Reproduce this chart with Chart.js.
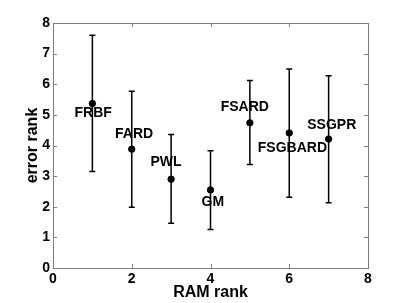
<!DOCTYPE html>
<html>
<head>
<meta charset="utf-8">
<script src="https://cdn.jsdelivr.net/npm/chart.js@4"></script>
<style>
  html, body { margin: 0; padding: 0; background: #fff; }
  #wrap { width: 407px; height: 303px; position: relative; }
</style>
</head>
<body>
<div id="wrap"><canvas id="myChart"></canvas></div>
<script>
// RAM rank (x), mean error rank (y) and the error bar ends
var methods = ["FRBF", "FARD", "PWL", "GM", "FSARD", "FSGBARD", "SSGPR"];
var ramRank = [1, 2, 3, 4, 5, 6, 7];
var errRank = [5.37, 3.88, 2.90, 2.55, 4.74, 4.41, 4.21];
var errLow  = [3.15, 1.98, 1.46, 1.26, 3.38, 2.31, 2.13];
var errHigh = [7.60, 5.77, 4.36, 3.83, 6.12, 6.50, 6.28];
// where each method name sits (data coords, centre of the text)
var labelX = [1.02, 2.06, 2.87, 4.06, 4.87, 6.08, 7.08];
var labelY = [5.07, 4.38, 3.46, 2.16, 5.26, 3.90, 4.67];

var points = [];
for (var i = 0; i < ramRank.length; i++) {
  points.push({x: ramRank[i], y: errRank[i]});
}

var fontName = "'Liberation Sans', Arial, sans-serif";

// error bars + method names
var errorBars = {
  id: "errorBars",
  beforeDatasetsDraw: function(chart) {
    var ctx = chart.ctx, xs = chart.scales.x, ys = chart.scales.y;
    ctx.save();
    ctx.strokeStyle = "#000";
    ctx.lineWidth = 1.5;
    for (var i = 0; i < ramRank.length; i++) {
      var px = xs.getPixelForValue(ramRank[i]);
      var lo = ys.getPixelForValue(errLow[i]);
      var hi = ys.getPixelForValue(errHigh[i]);
      ctx.beginPath();
      ctx.moveTo(px, lo); ctx.lineTo(px, hi);
      ctx.moveTo(px - 3, lo); ctx.lineTo(px + 3, lo);
      ctx.moveTo(px - 3, hi); ctx.lineTo(px + 3, hi);
      ctx.stroke();
    }
    ctx.restore();
  },
  afterDatasetsDraw: function(chart) {
    var ctx = chart.ctx, xs = chart.scales.x, ys = chart.scales.y;
    ctx.save();
    ctx.fillStyle = "#000";
    ctx.font = "bold 14px " + fontName;
    ctx.textAlign = "center";
    ctx.textBaseline = "middle";
    for (var i = 0; i < methods.length; i++) {
      ctx.fillText(methods[i], xs.getPixelForValue(labelX[i]), ys.getPixelForValue(labelY[i]));
    }
    ctx.restore();
  }
};

// matlab style box with inward ticks on all sides
var boxTicks = {
  id: "boxTicks",
  afterDraw: function(chart) {
    var ctx = chart.ctx, a = chart.chartArea, xs = chart.scales.x, ys = chart.scales.y;
    var t = 4;
    ctx.save();
    ctx.strokeStyle = "#7f7f7f";
    ctx.lineWidth = 1;
    ctx.strokeRect(Math.round(a.left) + 0.5, Math.round(a.top) + 0.5,
                   Math.round(a.right - a.left), Math.round(a.bottom - a.top));
    ctx.beginPath();
    xs.ticks.forEach(function(tk) {
      var px = Math.round(xs.getPixelForValue(tk.value)) + 0.5;
      ctx.moveTo(px, a.bottom); ctx.lineTo(px, a.bottom - t);
      ctx.moveTo(px, a.top); ctx.lineTo(px, a.top + t);
    });
    ys.ticks.forEach(function(tk) {
      var py = Math.round(ys.getPixelForValue(tk.value)) + 0.5;
      ctx.moveTo(a.left, py); ctx.lineTo(a.left + t, py);
      ctx.moveTo(a.right, py); ctx.lineTo(a.right - t, py);
    });
    ctx.stroke();
    ctx.restore();
  }
};

new Chart("myChart", {
  type: "scatter",
  data: {
    datasets: [{
      data: points,
      backgroundColor: "#000",
      borderColor: "#000",
      pointRadius: 3.2,
      pointHoverRadius: 3.2
    }]
  },
  options: {
    responsive: true,
    maintainAspectRatio: false,
    animation: false,
    events: [],
    layout: {padding: {left: 0, right: 39, top: 23, bottom: 0}},
    plugins: {legend: {display: false}, tooltip: {enabled: false}},
    scales: {
      x: {
        type: "linear", min: 0, max: 8,
        grid: {display: false, drawTicks: false},
        border: {display: false},
        ticks: {stepSize: 2, padding: 3, color: "#000", font: {family: fontName, size: 14, weight: "bold"}},
        title: {display: true, text: "RAM rank", color: "#000", padding: {top: 0, bottom: 1},
                font: {family: fontName, size: 16, weight: "bold"}},
        afterFit: function(s) { s.height = 35; }
      },
      y: {
        type: "linear", min: 0, max: 8,
        grid: {display: false, drawTicks: false},
        border: {display: false},
        ticks: {stepSize: 1, padding: 3, color: "#000", font: {family: fontName, size: 14, weight: "bold"}},
        title: {display: true, text: "error rank", color: "#000", padding: {top: 23, bottom: 0},
                font: {family: fontName, size: 16, weight: "bold"}},
        afterFit: function(s) { s.width = 53; }
      }
    }
  },
  plugins: [errorBars, boxTicks]
});
</script>
</body>
</html>
